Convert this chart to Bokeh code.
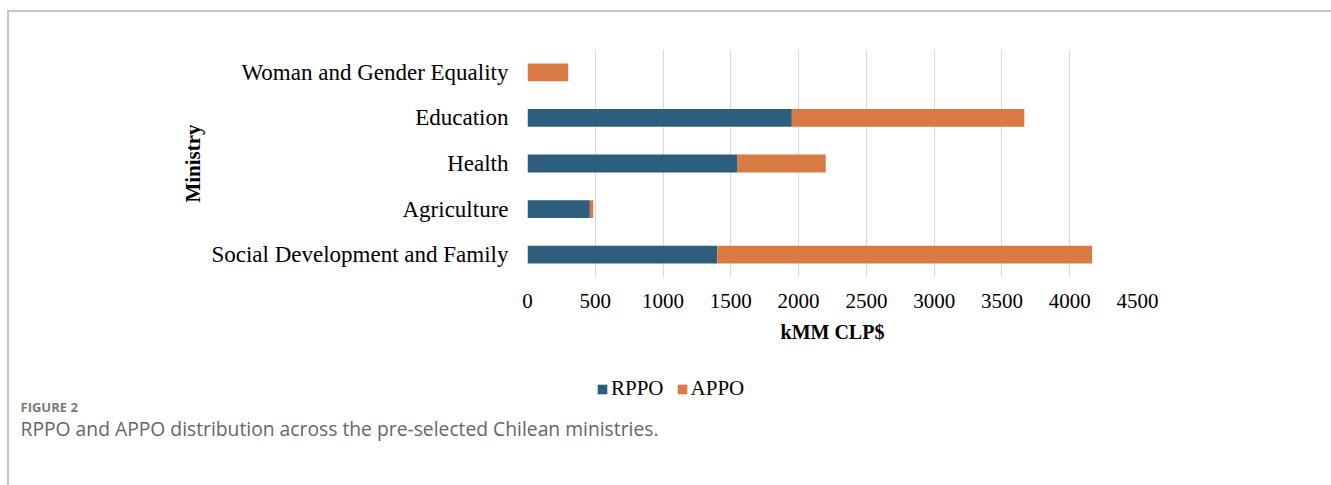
from bokeh.plotting import figure
from bokeh.layouts import column
from bokeh.models import (ColumnDataSource, FactorRange, Range1d, FixedTicker,
                          Legend, LegendItem, Label)
from bokeh.embed import file_html
from bokeh.resources import INLINE

# Ministries, listed bottom to top as they appear on the y axis
ministries = ["Social Development and Family", "Agriculture", "Health",
              "Education", "Woman and Gender Equality"]
# Budget per programme type (kMM CLP$)
rppo = [1400, 460, 1550, 1950, 0]
appo = [2765, 25, 650, 1715, 300]
series = ["RPPO", "APPO"]
x_ticks = [0, 500, 1000, 1500, 2000, 2500, 3000, 3500, 4000, 4500]

BLUE = "#2E5E7E"
ORANGE = "#D97A42"
SERIF = "Liberation Serif"
SANS = "Open Sans"

source = ColumnDataSource(dict(ministry=ministries, RPPO=rppo, APPO=appo))

# page geometry: a bordered box holding the chart and, below it, legend + caption
BOX_X, BOX_Y, BORDER = 7, 10, 2
OX, OY = BOX_X + BORDER, BOX_Y + BORDER
PAGE_W, PAGE_H = 1331, 485
W = PAGE_W - OX
SPLIT = 360                      # page y where the chart ends and the caption strip starts
FRAME_L, FRAME_R, FRAME_T, FRAME_B = 527, 1137, 49, 277

p = figure(width=W, height=SPLIT - OY, y_range=FactorRange(*ministries),
           x_range=Range1d(0, 4500), output_backend="svg",
           toolbar_location=None, frame_align=False,
           min_border_left=FRAME_L - OX, min_border_right=W - (FRAME_R - OX),
           min_border_top=FRAME_T - OY, min_border_bottom=SPLIT - FRAME_B)
p.outline_line_color = None
p.background_fill_color = "white"
p.border_fill_color = "white"

p.hbar_stack(series, y="ministry", height=0.39, color=[BLUE, ORANGE],
             line_color=None, source=source)

# x axis
p.xaxis.ticker = FixedTicker(ticks=x_ticks)
p.xaxis.axis_line_color = None
p.xaxis.major_tick_line_color = None
p.xaxis.major_tick_out = 0
p.xaxis.major_tick_in = 0
p.xaxis.minor_tick_line_color = None
p.xaxis.major_label_text_font = SERIF
p.xaxis.major_label_text_font_size = "21px"
p.xaxis.major_label_text_color = "black"
p.xaxis.major_label_standoff = 16
p.xaxis.axis_label = "kMM CLP$"
p.xaxis.axis_label_text_font = SERIF
p.xaxis.axis_label_text_font_size = "20px"
p.xaxis.axis_label_text_font_style = "bold"
p.xaxis.axis_label_text_color = "black"
p.xaxis.axis_label_standoff = 10

# y axis
p.yaxis.axis_line_color = None
p.yaxis.major_tick_line_color = None
p.yaxis.major_tick_out = 0
p.yaxis.major_tick_in = 0
p.yaxis.minor_tick_line_color = None
p.yaxis.major_label_text_font = SERIF
p.yaxis.major_label_text_font_size = "23px"
p.yaxis.major_label_text_color = "black"
p.yaxis.major_label_standoff = 19
p.yaxis.axis_label = "Ministry"
p.yaxis.axis_label_text_font = SERIF
p.yaxis.axis_label_text_font_size = "21px"
p.yaxis.axis_label_text_font_style = "bold"
p.yaxis.axis_label_text_color = "black"
p.yaxis.axis_label_standoff = 3

# grid
p.xgrid.grid_line_color = "#D9D9D9"
p.xgrid.grid_line_width = 1
p.ygrid.grid_line_color = None

# strip below the chart: legend and figure caption, in pixel-sized data units
HB = PAGE_H - SPLIT
q = figure(width=W, height=HB, x_range=Range1d(0, W), y_range=Range1d(0, HB),
           output_backend="svg", toolbar_location=None, frame_align=False,
           x_axis_type=None, y_axis_type=None, min_border=0)
q.outline_line_color = None
q.grid.grid_line_color = None
q.background_fill_color = "white"
q.border_fill_color = "white"


def px(x):
    return x - OX


def py(y):
    return PAGE_H - y


# legend swatches: off-range bars that only lend their colours to the legend
swatches = [q.hbar(y=[-50], left=[-50], right=[-40], height=1, color=c, line_color=None)
            for c in (BLUE, ORANGE)]
legend = Legend(items=[LegendItem(label=s, renderers=[r]) for s, r in zip(series, swatches)],
                orientation="horizontal", location=(px(596), py(401)),
                glyph_width=12, glyph_height=12, label_standoff=3, spacing=12,
                padding=0, margin=0, border_line_color=None,
                background_fill_alpha=0, label_text_font=SERIF,
                label_text_font_size="21px", label_text_color="black")
q.add_layout(legend, "center")

q.add_layout(Label(x=px(20), y=py(406), text="FIGURE 2", text_font=SANS,
                   text_font_style="bold", text_font_size="13px",
                   text_color="#7A7A7A", text_baseline="alphabetic"))
q.add_layout(Label(x=px(20), y=py(428),
                   text="RPPO and APPO distribution across the pre-selected Chilean ministries.",
                   text_font=SANS, text_font_size="19.3px", text_color="#666666",
                   text_baseline="alphabetic"))

page = column(p, q, spacing=0,
              styles={"margin-left": f"{BOX_X}px", "margin-top": f"{BOX_Y}px",
                      "border-left": f"{BORDER}px solid #C6C6C6",
                      "border-top": f"{BORDER}px solid #C6C6C6"})

open("out.html", "w").write(file_html(page, INLINE))
